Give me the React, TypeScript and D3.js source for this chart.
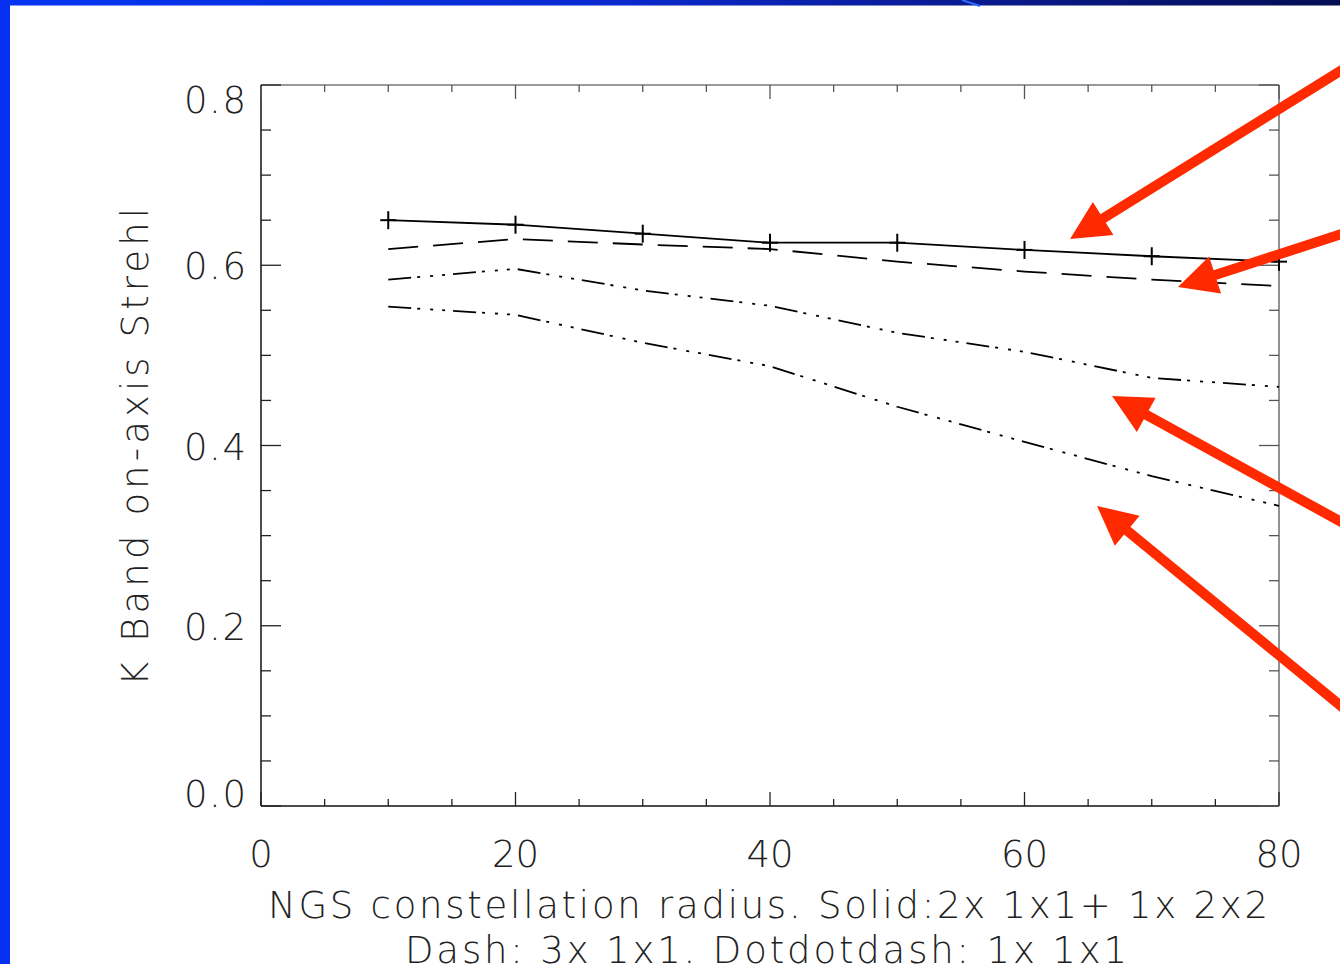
import React from "react";
import * as d3 from "d3";

const radius = [10, 20, 30, 40, 50, 60, 70, 80];
const solidValues = [0.650, 0.645, 0.635, 0.625, 0.625, 0.617, 0.610, 0.604];
const dashValues = [0.618, 0.629, 0.623, 0.618, 0.604, 0.593, 0.584, 0.577];
const dotdotdashUpper = [0.584, 0.596, 0.572, 0.555, 0.525, 0.504, 0.475, 0.465];
const dotdotdashLower = [0.554, 0.545, 0.514, 0.488, 0.443, 0.404, 0.366, 0.333];

const xTickLabels = ["0", "20", "40", "60", "80"];
const yTickLabels = ["0.0", "0.2", "0.4", "0.6", "0.8"];

// annotation arrows: [tipX, tipY, tailX, tailY] in data units
const arrowTips = [
  [63.58, 0.629, 85.19, 0.819],
  [72.06, 0.5759, 85.19, 0.6358],
  [66.88, 0.4549, 85.19, 0.3129],
  [65.7, 0.3329, 85.19, 0.1071],
];

const W = 1340;
const H = 964;
const FONT = "'DejaVu Sans', 'Liberation Sans', sans-serif";

export default function App() {
  const left = 261, right = 1279, top = 85, bottom = 806;
  const x = d3.scaleLinear().domain([0, 80]).range([left, right]);
  const y = d3.scaleLinear().domain([0, 0.8]).range([bottom, top]);

  const line = d3
    .line<number>()
    .x((_, i) => x(radius[i]))
    .y((d) => y(d));

  const xMinor = d3.range(0, 80.001, 5);
  const yMinor = d3.range(0, 0.8001, 0.05);

  const isMajorX = (v: number) => Math.abs(v / 20 - Math.round(v / 20)) < 1e-6;
  const isMajorY = (v: number) => Math.abs(v / 0.2 - Math.round(v / 0.2)) < 1e-6;

  const series = [
    { vals: solidValues, dash: undefined as string | undefined },
    { vals: dashValues, dash: "30,15" },
    { vals: dotdotdashUpper, dash: "23,6,3,10,3,9,3,8" },
    { vals: dotdotdashLower, dash: "23,6,3,10,3,9,3,8" },
  ];

  const fs = 37;

  return (
    <svg
      width={W}
      height={H}
      viewBox={`0 0 ${W} ${H}`}
      style={{ position: "absolute", left: 0, top: 0, background: "#fff" }}
    >
      <defs>
        <linearGradient id="topbar" x1="0" x2="1" y1="0" y2="0">
          <stop offset="0" stopColor="#0535f2" />
          <stop offset="0.45" stopColor="#0a2ad0" />
          <stop offset="0.7" stopColor="#0a1b95" />
          <stop offset="1" stopColor="#040e52" />
        </linearGradient>
      </defs>
      <rect x={0} y={0} width={W} height={H} fill="#fff" />
      <rect x={0} y={0} width={W} height={5.5} fill="url(#topbar)" />
      <line x1={962} y1={0} x2={980} y2={6} stroke="#2f6cff" strokeWidth={2} />
      <rect x={0} y={0} width={10} height={H} fill="#0631f3" />

      {/* frame */}
      <line x1={left} y1={top} x2={right} y2={top} stroke="#777" strokeWidth={1.3} />
      <line x1={right} y1={top} x2={right} y2={bottom} stroke="#777" strokeWidth={1.6} />
      <line x1={left} y1={top} x2={left} y2={bottom} stroke="#111" strokeWidth={1.5} />
      <line x1={left} y1={bottom} x2={right} y2={bottom} stroke="#111" strokeWidth={1.5} />

      {/* x ticks */}
      {xMinor.map((v) => {
        const len = isMajorX(v) ? 14 : 7;
        return (
          <g key={"xt" + v}>
            <line x1={x(v)} x2={x(v)} y1={bottom} y2={bottom - len} stroke="#222" strokeWidth={1.3} />
            <line x1={x(v)} x2={x(v)} y1={top} y2={top + len} stroke="#555" strokeWidth={1.3} />
          </g>
        );
      })}
      {/* y ticks */}
      {yMinor.map((v) => {
        const len = isMajorY(v) ? 20 : 10;
        return (
          <g key={"yt" + v}>
            <line x1={left} x2={left + len} y1={y(v)} y2={y(v)} stroke="#222" strokeWidth={1.3} />
            <line x1={right} x2={right - len} y1={y(v)} y2={y(v)} stroke="#555" strokeWidth={1.3} />
          </g>
        );
      })}

      {/* tick labels */}
      {xTickLabels.map((t) => (
        <text
          key={"xl" + t}
          x={x(+t)}
          y={867}
          textAnchor="middle"
          fontFamily={FONT}
          fontWeight={200}
          fontSize={fs}
          fill="#222"
        >
          {t}
        </text>
      ))}
      {yTickLabels.map((t) => {
        const v = +t;
        let by = y(v) + 14;
        if (v >= 0.8) by = top + 28;
        if (v <= 0) by = bottom + 1;
        return (
          <text
            key={"yl" + t}
            x={246}
            y={by}
            textAnchor="end"
            fontFamily={FONT}
            fontWeight={200}
            fontSize={fs}
            fill="#222"
            textLength={62}
            lengthAdjust="spacing"
          >
            {t}
          </text>
        );
      })}

      {/* axis titles */}
      <text
        x={768}
        y={918}
        textAnchor="middle"
        fontFamily={FONT}
        fontWeight={200}
        fontSize={fs}
        fill="#222"
        textLength={1000}
        lengthAdjust="spacing"
      >
        NGS constellation radius. Solid:2x 1x1+ 1x 2x2
      </text>
      <text
        x={766}
        y={963}
        textAnchor="middle"
        fontFamily={FONT}
        fontWeight={200}
        fontSize={fs}
        fill="#222"
        textLength={722}
        lengthAdjust="spacing"
      >
        Dash: 3x 1x1. Dotdotdash: 1x 1x1
      </text>
      <text
        transform="translate(148,447) rotate(-90)"
        textAnchor="middle"
        fontFamily={FONT}
        fontWeight={200}
        fontSize={fs}
        fill="#222"
        textLength={478}
        lengthAdjust="spacing"
      >
        K Band on-axis Strehl
      </text>

      {/* series */}
      {series.map((s, i) => (
        <path
          key={"s" + i}
          d={line(s.vals) || ""}
          fill="none"
          stroke="#000"
          strokeWidth={1.8}
          strokeDasharray={s.dash}
        />
      ))}
      {/* plus markers on solid */}
      {solidValues.map((v, i) => (
        <g key={"p" + i} stroke="#000" strokeWidth={2}>
          <line x1={x(radius[i]) - 8} x2={x(radius[i]) + 8} y1={y(v)} y2={y(v)} />
          <line x1={x(radius[i])} x2={x(radius[i])} y1={y(v) - 9} y2={y(v) + 9} />
        </g>
      ))}

      {/* red arrows */}
      {arrowTips.map((a, i) => {
        const tx = x(a[0]), ty = y(a[1]), sx = x(a[2]), sy = y(a[3]);
        const dx = sx - tx, dy = sy - ty;
        const L = Math.hypot(dx, dy);
        const ux = dx / L, uy = dy / L;
        const px = -uy, py = ux;
        const headLen = 39, halfW = 19.5;
        const bx = tx + ux * headLen, by = ty + uy * headLen;
        const pts = [
          [tx, ty],
          [bx + px * halfW, by + py * halfW],
          [bx - px * halfW, by - py * halfW],
        ];
        return (
          <g key={"a" + i}>
            <line
              x1={sx}
              y1={sy}
              x2={tx + ux * (headLen - 4)}
              y2={ty + uy * (headLen - 4)}
              stroke="#ff2a00"
              strokeWidth={10}
            />
            <polygon points={pts.map((p) => p.join(",")).join(" ")} fill="#ff2a00" />
          </g>
        );
      })}
    </svg>
  );
}
